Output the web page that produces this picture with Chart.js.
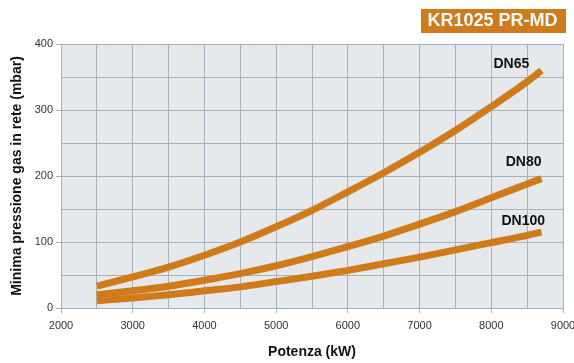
<!DOCTYPE html>
<html>
<head>
<meta charset="utf-8">
<script src="https://cdn.jsdelivr.net/npm/chart.js@4/dist/chart.umd.min.js"></script>
<style>
  html, body { margin: 0; padding: 0; background: #ffffff; }
  #wrap { position: relative; width: 574px; height: 363px; }
</style>
</head>
<body>
<div id="wrap"><canvas id="c" width="574" height="363"></canvas></div>
<script>
// ---- data ----
const power = [2500, 3000, 3500, 4000, 4500, 5000, 5500, 6000, 6500, 7000, 7500, 8000, 8500, 8700];
const dn65  = [33, 47, 62, 80, 100, 123, 148, 176, 205, 236, 269, 305, 343, 360];
const dn80  = [20, 26, 33, 42, 52, 64, 78, 93, 109, 127, 146, 167, 188, 196];
const dn100 = [11, 15, 20, 26, 32, 40, 48, 57, 67, 77, 88, 99, 110, 115];
const seriesNames = ['DN65', 'DN80', 'DN100'];
const labelPower = [8280, 8450, 8445];
const labelPressure = [370, 221, 132];
const chartTitle = 'KR1025 PR-MD';
const xTitle = 'Potenza (kW)';
const yTitle = 'Minima pressione gas in rete (mbar)';

const ORANGE = '#d07b19';
const GRID = '#a6b2ba';
const PLOT_BG = '#e6e9ec';
const FONT = '"Liberation Sans", Arial, Helvetica, sans-serif';

const toPts = arr => power.map((p, i) => ({ x: p, y: arr[i] }));

const bgPlugin = {
  id: 'plotBg',
  beforeDraw(chart) {
    const { ctx, chartArea: a } = chart;
    ctx.save();
    ctx.fillStyle = PLOT_BG;
    ctx.fillRect(a.left, a.top, a.right - a.left, a.bottom - a.top);
    ctx.restore();
  }
};

const labelPlugin = {
  id: 'seriesLabels',
  afterDatasetsDraw(chart) {
    const { ctx, scales: { x, y } } = chart;
    ctx.save();
    ctx.font = 'bold 14px ' + FONT;
    ctx.fillStyle = '#111111';
    ctx.textAlign = 'center';
    ctx.textBaseline = 'middle';
    seriesNames.forEach((n, i) => {
      ctx.fillText(n, x.getPixelForValue(labelPower[i]), y.getPixelForValue(labelPressure[i]));
    });
    ctx.restore();
  }
};

const titlePlugin = {
  id: 'titleBox',
  afterDraw(chart) {
    const { ctx } = chart;
    ctx.save();
    ctx.fillStyle = ORANGE;
    ctx.fillRect(421, 9, 145, 24);
    ctx.fillStyle = '#ffffff';
    ctx.font = 'bold 18px ' + FONT;
    ctx.textAlign = 'center';
    ctx.textBaseline = 'middle';
    ctx.fillText(chartTitle, 492.5, 21.5);
    ctx.restore();
  }
};

const common = {
  borderColor: ORANGE,
  backgroundColor: ORANGE,
  borderWidth: 7,
  pointRadius: 0,
  fill: false,
  cubicInterpolationMode: 'monotone',
  borderCapStyle: 'butt'
};

new Chart(document.getElementById('c'), {
  type: 'line',
  data: {
    datasets: [
      Object.assign({ label: seriesNames[0], data: toPts(dn65) }, common),
      Object.assign({ label: seriesNames[1], data: toPts(dn80) }, common),
      Object.assign({ label: seriesNames[2], data: toPts(dn100) }, common)
    ]
  },
  options: {
    responsive: false,
    animation: false,
    layout: { padding: { top: 44, right: 11, left: 0, bottom: 0 } },
    plugins: { legend: { display: false }, tooltip: { enabled: false } },
    scales: {
      x: {
        type: 'linear',
        min: 2000, max: 9000,
        afterFit(s) { s.height = 55; s.paddingLeft = 0; s.paddingRight = 0; },
        ticks: {
          stepSize: 500, autoSkip: false, maxRotation: 0, padding: 6,
          color: '#333333',
          font: { family: FONT, size: 11 },
          callback: v => (v % 1000 === 0 ? String(v) : '')
        },
        grid: {
          color: GRID, lineWidth: 1, tickLength: 5,
          tickColor: c => (c.tick && c.tick.value % 1000 === 0 ? GRID : 'rgba(0,0,0,0)')
        },
        border: { display: true, color: GRID },
        title: {
          display: true, text: xTitle, color: '#111111',
          font: { family: FONT, size: 14, weight: 'bold' },
          padding: { top: 0, bottom: 2 }
        }
      },
      y: {
        min: 0, max: 400,
        afterFit(s) { s.width = 61; },
        ticks: {
          stepSize: 50, autoSkip: false, padding: 3,
          color: '#333333',
          font: { family: FONT, size: 11 },
          callback: v => (v % 100 === 0 ? String(v) : '')
        },
        grid: {
          color: GRID, lineWidth: 1, tickLength: 5,
          tickColor: c => (c.tick && c.tick.value % 100 === 0 ? GRID : 'rgba(0,0,0,0)')
        },
        border: { display: true, color: GRID },
        title: {
          display: true, text: yTitle, color: '#111111',
          font: { family: FONT, size: 14, weight: 'bold' },
          padding: { top: 9, bottom: 0 }
        }
      }
    }
  },
  plugins: [bgPlugin, labelPlugin, titlePlugin]
});
</script>
</body>
</html>
